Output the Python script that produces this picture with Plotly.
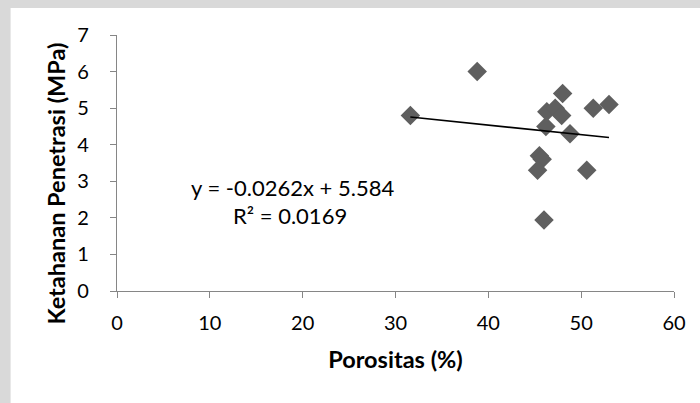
import plotly.graph_objects as go

porositas = [31.6, 38.8, 48.0, 46.3, 47.2, 47.9, 46.2, 48.8, 51.3, 53.0, 45.5, 45.8, 45.3, 50.6, 46.0]
ketahanan = [4.8, 6.0, 5.4, 4.9, 5.0, 4.8, 4.5, 4.3, 5.0, 5.1, 3.7, 3.6, 3.3, 3.3, 1.94]
slope = -0.0262
intercept = 5.584
x_ticks = [0, 10, 20, 30, 40, 50, 60]
y_ticks = [0, 1, 2, 3, 4, 5, 6, 7]

trend_x = [min(porositas), max(porositas)]
trend_y = [slope * v + intercept for v in trend_x]

FONT = "Lato"
fig = go.Figure()
fig.add_trace(go.Scatter(x=porositas, y=ketahanan, mode="markers",
                         marker=dict(symbol="diamond", size=15, color="#5f5f5f"),
                         showlegend=False))
fig.add_trace(go.Scatter(x=trend_x, y=trend_y, mode="lines",
                         line=dict(color="black", width=1.6), showlegend=False))

W, H = 700, 403
ml, mr, mt = 116.5, 26, 35
axis_bottom = 291
mb = H - axis_bottom
pw, ph = W - ml - mr, axis_bottom - mt
def px(x):
    return (x - ml) / pw
def py(y):
    return (axis_bottom - y) / ph

GRAY = "#d9d9d9"
fig.add_shape(type="rect", xref="paper", yref="paper",
              x0=px(-5), x1=px(W + 5), y0=py(-5), y1=py(8),
              fillcolor=GRAY, line=dict(width=0), layer="below")
fig.add_shape(type="rect", xref="paper", yref="paper",
              x0=px(-5), x1=px(10), y0=py(-5), y1=py(H + 5),
              fillcolor=GRAY, line=dict(width=0), layer="below")

fig.add_annotation(x=px(292), y=py(187), xref="paper", yref="paper",
                   xanchor="center", yanchor="middle",
                   text="y = -0.0262x + 5.584", showarrow=False,
                   font=dict(family=FONT, size=22, color="black"))
fig.add_annotation(x=px(290), y=py(215), xref="paper", yref="paper",
                   xanchor="center", yanchor="middle",
                   text="R² = 0.0169", showarrow=False,
                   font=dict(family=FONT, size=22, color="black"))
fig.add_annotation(x=px(55), y=py(184), xref="paper", yref="paper",
                   xanchor="center", yanchor="middle", textangle=-90,
                   text="<b>Ketahanan Penetrasi (MPa)</b>", showarrow=False,
                   font=dict(family=FONT, size=23.5, color="black"))

axis_common = dict(showgrid=False, zeroline=False, showline=True,
                   linecolor="#868686", linewidth=1.3, ticks="outside",
                   tickcolor="#868686", ticklen=6, tickwidth=1.3,
                   tickfont=dict(family=FONT, size=20, color="black"))
fig.update_xaxes(range=[0, 60], tickvals=x_ticks, ticklabelstandoff=8, **axis_common,
                 title=dict(text="<b>Porositas (%)</b>", standoff=18,
                            font=dict(family=FONT, size=23.5, color="black")))
fig.update_yaxes(range=[0, 7], tickvals=y_ticks, ticklabelstandoff=17, **axis_common)

fig.update_layout(width=W, height=H,
                  margin=dict(l=ml, r=mr, t=mt, b=mb, autoexpand=False),
                  paper_bgcolor="white", plot_bgcolor="white")
fig.write_html("out.html",
               post_script="document.body.style.margin='0';"
                           "document.documentElement.style.overflow='hidden';"
                           "document.body.style.overflow='hidden';")
